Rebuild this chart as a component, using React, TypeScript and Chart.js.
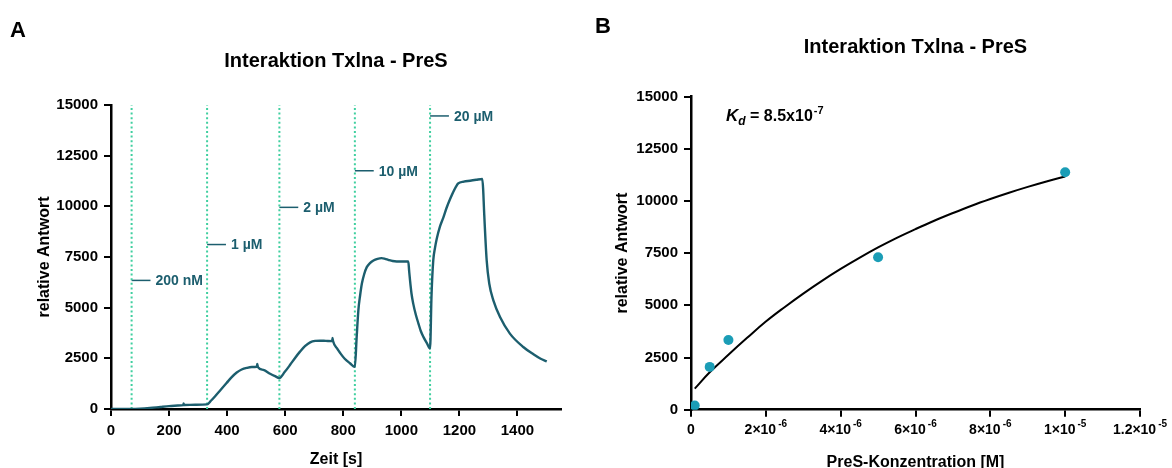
import React, { useEffect, useRef } from "react";
import { Chart, registerables } from "chart.js";

Chart.register(...registerables);

const FONT = "'Liberation Sans', Arial, sans-serif";
const TEAL = "#1c5e6e";
const MINT = "#3fcf9f";
const DOT = "#1b9db6";

// ---------- Panel A data ----------
const timeS = [0, 40, 71, 100, 134, 170, 200, 230, 249, 250, 252, 290, 331, 345, 358, 378, 398, 415, 433, 450, 468, 485, 502, 504, 506, 525, 548, 565, 580, 598, 617, 634, 651, 668, 686, 703, 720, 740, 762, 763, 765, 778, 790, 805, 823, 840, 846, 852, 858, 864, 872, 881, 892, 904, 918, 932, 944, 955, 970, 984, 1000, 1024, 1027, 1030, 1035, 1041, 1050, 1059, 1067, 1076, 1088, 1099, 1104, 1110, 1116, 1122, 1133, 1145, 1156, 1168, 1182, 1196, 1215, 1237, 1258, 1279, 1282, 1285, 1294, 1303, 1317, 1340, 1374, 1420, 1455, 1480, 1501];
const response = [0, 0, 0, 15, 50, 100, 140, 170, 190, 270, 195, 210, 230, 420, 620, 950, 1280, 1560, 1800, 1950, 2030, 2070, 2080, 2220, 2070, 1930, 1740, 1620, 1530, 1820, 2180, 2520, 2830, 3100, 3290, 3360, 3370, 3360, 3350, 3500, 3340, 3000, 2750, 2480, 2260, 2080, 3500, 4870, 5600, 6180, 6650, 7000, 7200, 7330, 7410, 7445, 7410, 7360, 7300, 7280, 7280, 7280, 6800, 6345, 5700, 5200, 4650, 4215, 3850, 3560, 3250, 2985, 5600, 7330, 7950, 8400, 9000, 9460, 9930, 10360, 10800, 11130, 11220, 11265, 11310, 11350, 10800, 9790, 7330, 6180, 5360, 4540, 3720, 3060, 2700, 2480, 2350];
const injectionTimes = [71, 331, 580, 840, 1099];
const injectionLabels = ["200 nM", "1 µM", "2 µM", "10 µM", "20 µM"];
const injectionLabelLevels = [6345, 8115, 9950, 11755, 14460];
const markerLength = 65;
const leftXTicks = [0, 200, 400, 600, 800, 1000, 1200, 1400];
const yTicks = [0, 2500, 5000, 7500, 10000, 12500, 15000];

// ---------- Panel B data ----------
const concM = [1e-7, 5e-7, 1e-6, 5e-6, 1e-5];
const measuredResponse = [200, 2050, 3340, 7300, 11370];
const fitConcM = [1e-7, 5e-7, 1e-6, 1.5e-6, 2e-6, 2.5e-6, 3e-6, 3.5e-6, 4e-6, 4.5e-6, 5e-6, 5.5e-6, 6e-6, 6.5e-6, 7e-6, 7.5e-6, 8e-6, 8.5e-6, 9e-6, 9.5e-6, 1e-5];
const fitResponse = [1010, 1790, 2630, 3440, 4220, 4910, 5560, 6170, 6740, 7270, 7770, 8230, 8650, 9050, 9420, 9770, 10090, 10390, 10670, 10930, 11170];
const rightXTicks = [0, 2e-6, 4e-6, 6e-6, 8e-6, 1e-5, 1.2e-5];

function axis(min: number, max: number, ticksArr: number[], fit: (s: any) => void, hideLabels = false) {
  return {
    type: "linear",
    min,
    max,
    afterBuildTicks: (s: any) => {
      s.ticks = ticksArr.map((v) => ({ value: v }));
    },
    afterFit: fit,
    grid: { display: true, drawOnChartArea: false, drawTicks: true, tickLength: 7, color: "#000", lineWidth: 2 },
    border: { display: true, color: "#000", width: 2.5 },
    ticks: {
      color: "#000",
      font: { family: FONT, size: 15, weight: "bold" },
      padding: 6,
      maxRotation: 0,
      autoSkip: false,
      callback: (v: any) => (hideLabels ? "" : String(v)),
    },
  } as any;
}

const leftDecor = {
  id: "leftDecor",
  afterDraw(chart: any) {
    const ctx = chart.ctx;
    const { left, right, top, bottom } = chart.chartArea;
    const xs = chart.scales.x;
    const ys = chart.scales.y;
    ctx.save();
    ctx.fillStyle = "#000";
    ctx.textBaseline = "middle";
    ctx.textAlign = "left";
    ctx.font = `bold 22px ${FONT}`;
    ctx.fillText("A", 10, 31);
    ctx.textAlign = "center";
    ctx.font = `bold 20px ${FONT}`;
    ctx.fillText("Interaktion Txlna - PreS", (left + right) / 2, 61);
    ctx.font = `bold 16px ${FONT}`;
    ctx.fillText("Zeit [s]", (left + right) / 2, 460);
    ctx.save();
    ctx.translate(45, (top + bottom) / 2);
    ctx.rotate(-Math.PI / 2);
    ctx.fillText("relative Antwort", 0, 0);
    ctx.restore();
    ctx.fillStyle = TEAL;
    ctx.textAlign = "left";
    ctx.font = `bold 14px ${FONT}`;
    injectionTimes.forEach((t, i) => {
      const px = xs.getPixelForValue(t + markerLength) + 5;
      const py = ys.getPixelForValue(injectionLabelLevels[i]);
      ctx.fillText(injectionLabels[i], px, py + 1);
    });
    ctx.restore();
  },
};

function fmtExp(v: number) {
  if (v === 0) return { base: "0", exp: "" };
  const e = Math.floor(Math.log10(v) + 1e-9);
  const m = Math.round((v / Math.pow(10, e)) * 10) / 10;
  return { base: `${m}×10`, exp: `-${Math.abs(e)}` };
}

const rightDecor = {
  id: "rightDecor",
  afterDraw(chart: any) {
    const ctx = chart.ctx;
    const { left, right, top, bottom } = chart.chartArea;
    const xs = chart.scales.x;
    ctx.save();
    ctx.fillStyle = "#000";
    ctx.textBaseline = "middle";
    ctx.textAlign = "left";
    ctx.font = `bold 22px ${FONT}`;
    ctx.fillText("B", 15, 27);
    ctx.textAlign = "center";
    ctx.font = `bold 20px ${FONT}`;
    ctx.fillText("Interaktion Txlna - PreS", (left + right) / 2, 47);
    ctx.font = `bold 16px ${FONT}`;
    ctx.fillText("PreS-Konzentration [M]", (left + right) / 2, 463);
    ctx.save();
    ctx.translate(43, (top + bottom) / 2);
    ctx.rotate(-Math.PI / 2);
    ctx.fillText("relative Antwort", 0, 0);
    ctx.restore();

    // x tick labels with exponents
    rightXTicks.forEach((v) => {
      const { base, exp } = fmtExp(v);
      const px = xs.getPixelForValue(v);
      ctx.font = `bold 14px ${FONT}`;
      const wb = ctx.measureText(base).width;
      ctx.font = `bold 10px ${FONT}`;
      const we = exp ? ctx.measureText(exp).width + 2 : 0;
      const x0 = px - (wb + we) / 2;
      ctx.textAlign = "left";
      ctx.font = `bold 14px ${FONT}`;
      ctx.fillText(base, x0, 430);
      if (exp) {
        ctx.font = `bold 10px ${FONT}`;
        ctx.fillText(exp, x0 + wb + 2, 424);
      }
    });

    // Kd annotation
    let x = left + 35;
    const y = top + 20;
    ctx.textAlign = "left";
    ctx.font = `italic bold 17px ${FONT}`;
    ctx.fillText("K", x, y);
    x += ctx.measureText("K").width;
    ctx.font = `italic bold 12px ${FONT}`;
    ctx.fillText("d", x, y + 5);
    x += ctx.measureText("d").width;
    ctx.font = `bold 16px ${FONT}`;
    ctx.fillText(" = 8.5x10", x, y);
    x += ctx.measureText(" = 8.5x10").width + 1;
    ctx.font = `bold 11px ${FONT}`;
    ctx.fillText("-7", x, y - 6);
    ctx.restore();
  },
};

function LeftChart() {
  const ref = useRef<HTMLCanvasElement>(null);
  useEffect(() => {
    const main = timeS.map((t, i) => ({ x: t, y: response[i] }));
    const datasets: any[] = [
      {
        data: main,
        borderColor: TEAL,
        borderWidth: 2.4,
        pointRadius: 0,
        cubicInterpolationMode: "monotone",
        fill: false,
      },
      ...injectionTimes.map((t) => ({
        data: [
          { x: t, y: 0 },
          { x: t, y: 15000 },
        ],
        borderColor: MINT,
        borderWidth: 2,
        borderDash: [2, 2.6],
        pointRadius: 0,
      })),
      ...injectionTimes.map((t, i) => ({
        data: [
          { x: t, y: injectionLabelLevels[i] },
          { x: t + markerLength, y: injectionLabelLevels[i] },
        ],
        borderColor: TEAL,
        borderWidth: 1.5,
        pointRadius: 0,
      })),
    ];
    const chart = new Chart(ref.current!, {
      type: "line",
      data: { datasets },
      options: {
        animation: false,
        responsive: false,
        layout: { padding: { left: 0, right: 19, top: 105, bottom: 0 } },
        plugins: { legend: { display: false }, tooltip: { enabled: false }, title: { display: false } },
        scales: {
          x: axis(0, 1550, leftXTicks, (s: any) => { s.height = 59; }),
          y: axis(0, 15000, yTicks, (s: any) => { s.width = 111; }),
        },
      } as any,
      plugins: [leftDecor],
    });
    return () => chart.destroy();
  }, []);
  return <canvas ref={ref} width={580} height={468} style={{ position: "absolute", left: 0, top: 0, width: 580, height: 468 }} />;
}

function RightChart() {
  const ref = useRef<HTMLCanvasElement>(null);
  useEffect(() => {
    const chart = new Chart(ref.current!, {
      type: "line",
      data: {
        datasets: [
          {
            data: concM.map((c, i) => ({ x: c, y: measuredResponse[i] })),
            showLine: false,
            pointRadius: 5,
            pointBackgroundColor: DOT,
            pointBorderColor: DOT,
            pointBorderWidth: 0,
          },
          {
            data: fitConcM.map((c, i) => ({ x: c, y: fitResponse[i] })),
            borderColor: "#000",
            borderWidth: 2,
            pointRadius: 0,
            tension: 0.4,
            fill: false,
          },
        ] as any,
      },
      options: {
        animation: false,
        responsive: false,
        layout: { padding: { left: 0, right: 32, top: 96.5, bottom: 0 } },
        plugins: { legend: { display: false }, tooltip: { enabled: false }, title: { display: false } },
        scales: {
          x: axis(0, 1.2e-5, rightXTicks, (s: any) => { s.height = 58.3; }, true),
          y: axis(0, 15000, yTicks, (s: any) => { s.width = 111; }),
        },
      } as any,
      plugins: [rightDecor],
    });
    return () => chart.destroy();
  }, []);
  return <canvas ref={ref} width={592} height={468} style={{ position: "absolute", left: 580, top: 0, width: 592, height: 468 }} />;
}

export default function App() {
  return (
    <div style={{ position: "fixed", left: 0, top: 0, width: 1172, height: 468, background: "#fff", overflow: "hidden" }}>
      <LeftChart />
      <RightChart />
    </div>
  );
}
